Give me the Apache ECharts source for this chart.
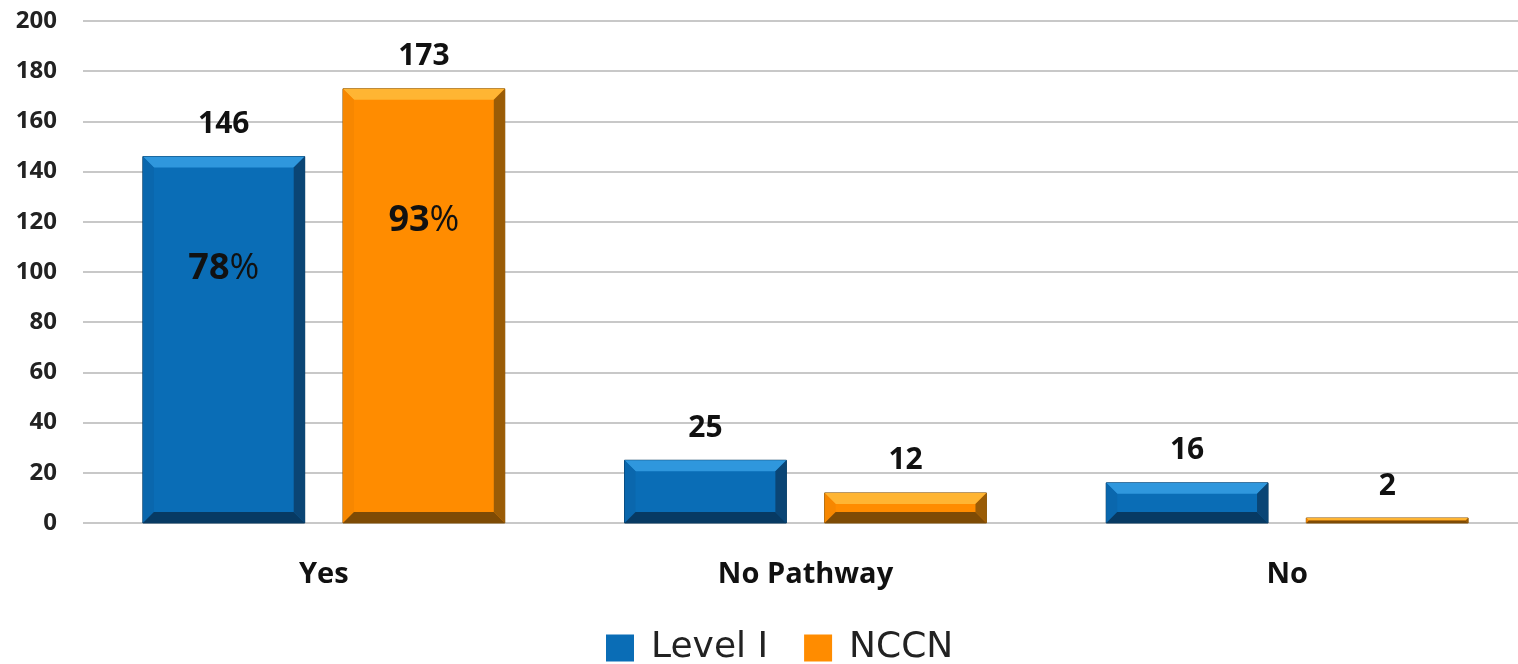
<!DOCTYPE html>
<html>
<head>
<meta charset="utf-8">
<script src="https://cdn.jsdelivr.net/npm/echarts@6/dist/echarts.min.js"></script>
<style>html,body{margin:0;padding:0;background:#fff}#c{width:1518px;height:664px}</style>
</head>
<body>
<div id="c"></div>
<script>
var categories = ['Yes', 'No Pathway', 'No'];
var seriesNames = ['Level I', 'NCCN'];
var levelI = [146, 25, 16];
var nccn = [173, 12, 2];
var levelIPct = ['78%', '', ''];
var nccnPct = ['93%', '', ''];
var yTicks = [0, 20, 40, 60, 80, 100, 120, 140, 160, 180, 200];

var palettes = [
  {main: '#0a6db6', top: '#2f97dd', left: '#0a67ad', right: '#0a4575', bottom: '#073a63', edge: '#06385f'},
  {main: '#ff8c00', top: '#ffb533', left: '#f78700', right: '#9a5c06', bottom: '#7e4b05', edge: '#8a5a10'}
];

var BAR_W = 0.336, OFFSET = 0.2077;
var FONT = '"Open Sans", Lato, sans-serif';

function makeRender(sIdx, pcts) {
  return function (params, api) {
    var ci = api.value(0), v = api.value(1);
    var band = api.size([1, 0])[0];
    var p = api.coord([ci, v]);
    var p0 = api.coord([ci, 0]);
    var w = band * BAR_W;
    var cx = p[0] + (sIdx === 0 ? -1 : 1) * band * OFFSET;
    var x = cx - w / 2, y = p[1], h = p0[1] - p[1];
    var b = Math.min(11, h / 2, w / 2);
    var c = palettes[sIdx];
    var kids = [
      {type: 'rect', shape: {x: x, y: y, width: w, height: h}, style: {fill: c.main, stroke: c.edge, lineWidth: 1}},
      {type: 'polygon', shape: {points: [[x, y], [x + w, y], [x + w - b, y + b], [x + b, y + b]]}, style: {fill: c.top}},
      {type: 'polygon', shape: {points: [[x, y], [x + b, y + b], [x + b, y + h - b], [x, y + h]]}, style: {fill: c.left}},
      {type: 'polygon', shape: {points: [[x + w, y], [x + w, y + h], [x + w - b, y + h - b], [x + w - b, y + b]]}, style: {fill: c.right}},
      {type: 'polygon', shape: {points: [[x, y + h], [x + b, y + h - b], [x + w - b, y + h - b], [x + w, y + h]]}, style: {fill: c.bottom}},
      {type: 'text', style: {text: String(v), x: cx, y: y - 32, align: 'center', verticalAlign: 'middle',
        font: 'bold 30px ' + FONT, fill: '#111'}}
    ];
    var pct = pcts[ci];
    if (pct) {
      kids.push({type: 'text', style: {
        text: '{n|' + pct.replace('%', '') + '}{p|%}', x: cx, y: y + h * 0.305, align: 'center', verticalAlign: 'middle',
        rich: {n: {font: 'bold 36px ' + FONT, fill: '#111'}, p: {font: '36px ' + FONT, fill: '#111'}}
      }});
    }
    return {type: 'group', children: kids};
  };
}

function toData(arr) { return arr.map(function (v, i) { return [i, v]; }); }

var chart = echarts.init(document.getElementById('c'));
chart.setOption({
  animation: false,
  grid: {left: 83, width: 1445, top: 21, bottom: 141, outerBoundsMode: 'none', containLabel: false},
  legend: {
    top: 630, left: 606, itemWidth: 28, itemHeight: 27, itemGap: 36,
    icon: 'rect', padding: 0,
    textStyle: {fontSize: 36, color: '#222', fontFamily: '"DejaVu Sans", sans-serif', padding: [0, 0, 0, 12]},
    data: seriesNames
  },
  xAxis: {
    type: 'category', data: categories,
    axisLine: {show: false}, axisTick: {show: false},
    axisLabel: {fontSize: 29, fontWeight: 'bold', color: '#111', margin: 37, fontFamily: FONT}
  },
  yAxis: {
    type: 'value', min: yTicks[0], max: yTicks[yTicks.length - 1], interval: yTicks[1] - yTicks[0],
    axisLine: {show: false}, axisTick: {show: false},
    axisLabel: {fontSize: 24, fontWeight: 'bold', color: '#222', margin: 26, fontFamily: FONT},
    splitLine: {lineStyle: {color: '#c8c8c8', width: 2}}
  },
  series: [
    {name: seriesNames[0], type: 'custom', renderItem: makeRender(0, levelIPct), data: toData(levelI),
      itemStyle: {color: palettes[0].main}, encode: {x: 0, y: 1}},
    {name: seriesNames[1], type: 'custom', renderItem: makeRender(1, nccnPct), data: toData(nccn),
      itemStyle: {color: palettes[1].main}, encode: {x: 0, y: 1}}
  ]
});
</script>
</body>
</html>
